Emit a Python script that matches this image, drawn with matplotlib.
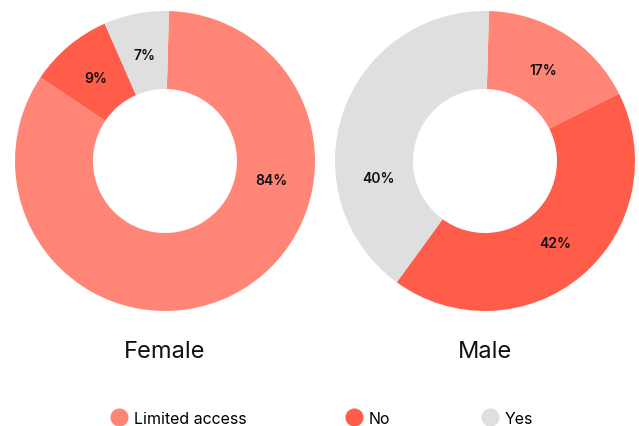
import numpy as np
import matplotlib.pyplot as plt
from matplotlib.lines import Line2D

plt.rcParams["font.family"] = ["Inter", "DejaVu Sans"]

categories = ["Limited access", "No", "Yes"]
colors = ["#FF8577", "#FF5C4A", "#DFDFDF"]

groups = ["Female", "Male"]
female_pct = [84, 9, 7]
male_pct = [17, 42, 40]

# big slices get their label nudged off the slice midpoint (degrees)
label_angle_override = {
    "Female": {0: -10},
    "Male": {2: 189},
}

W, H = 639, 427
fig = plt.figure(figsize=(W / 100, H / 100), dpi=100)


def donut(ax, values, name):
    wedges, _ = ax.pie(
        values,
        colors=colors,
        startangle=88.5,
        counterclock=False,
        radius=1.0,
        wedgeprops=dict(width=0.52, edgecolor="none"),
    )
    r_lab = 0.72
    for i, (w, v) in enumerate(zip(wedges, values)):
        ang = (w.theta1 + w.theta2) / 2
        ang = label_angle_override.get(name, {}).get(i, ang)
        x = r_lab * np.cos(np.radians(ang))
        y = r_lab * np.sin(np.radians(ang))
        ax.text(x, y, f"{v}%", ha="center", va="center",
                fontsize=10, fontweight="semibold", color="#111111")
    ax.set_xlim(-1, 1)
    ax.set_ylim(-1, 1)
    ax.set_aspect("equal")
    ax.axis("off")
    ax.text(0, -1.27, name, ha="center", va="center", fontsize=17, color="#111111")


for name, vals, left in [("Female", female_pct, 15), ("Male", male_pct, 335)]:
    ax = fig.add_axes([left / W, (H - 312) / H, 300 / W, 300 / H])
    donut(ax, vals, name)
    for t in ax.texts:
        t.set_clip_on(False)

# one legend entry per slot so the items sit where the layout wants them
legend_x = [119, 354, 490]
for cat, col, cx in zip(categories, colors, legend_x):
    h = Line2D([0], [0], marker="o", linestyle="none", markersize=13,
               markerfacecolor=col, markeredgecolor="none")
    fig.legend(
        [h], [cat],
        loc="center left", bbox_to_anchor=((cx - 8) / W, 1 - 419.5 / H),
        frameon=False, fontsize=11.5, borderpad=0, borderaxespad=0,
        handletextpad=0.44, handlelength=1.0,
    )

fig.savefig("out.png", dpi=100)
